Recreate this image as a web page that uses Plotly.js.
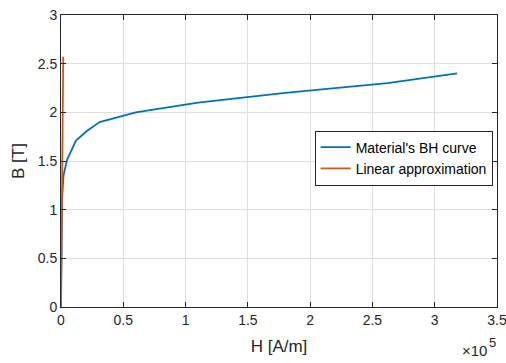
<!DOCTYPE html>
<html>
<head>
<meta charset="utf-8">
<script src="https://cdn.plot.ly/plotly-3.0.1.min.js"></script>
<style>html,body{margin:0;padding:0;background:#fff;}#plot{width:506px;height:363px;}</style>
</head>
<body>
<div id="plot"></div>
<script>
const bhH = [0, 800, 2000, 4800, 12000, 21000, 31000, 60000, 110000, 180000, 262000, 318000];
const bhB = [0, 1.1, 1.35, 1.51, 1.71, 1.81, 1.9, 2.0, 2.1, 2.2, 2.3, 2.4];
const linH = [0, 1800];
const linB = [0, 2.57];
const xTickVals = [0, 50000, 100000, 150000, 200000, 250000, 300000, 350000];
const xTickText = ['0', '0.5', '1', '1.5', '2', '2.5', '3', '3.5'];
const yTickVals = [0, 0.5, 1, 1.5, 2, 2.5, 3];
const yTickText = ['0', '0.5', '1', '1.5', '2', '2.5', '3'];

const fam = 'Liberation Sans, Arial, sans-serif';
const font = {family: fam, color: '#262626', size: 14};
const traces = [
  {x: bhH, y: bhB, mode: 'lines', name: "Material's BH curve", line: {color: '#0072BD', width: 1.8}},
  {x: linH, y: linB, mode: 'lines', name: 'Linear approximation', line: {color: '#D95319', width: 1.8}}
];
const axisCommon = {
  showline: true, linecolor: '#262626', linewidth: 1, mirror: 'ticks',
  ticks: 'inside', ticklen: 5, tickcolor: '#262626', tickwidth: 1,
  showgrid: true, gridcolor: '#dfdfdf', gridwidth: 1, zeroline: false,
  tickfont: font, ticklabeloverflow: 'allow'
};
const layout = {
  width: 506, height: 363,
  margin: {l: 61, r: 9, t: 15, b: 56},
  paper_bgcolor: '#fff', plot_bgcolor: '#fff',
  font: font,
  showlegend: true,
  legend: {x: 0.99, xanchor: 'right', y: 0.51, yanchor: 'middle', bgcolor: '#fff',
           bordercolor: '#262626', borderwidth: 1, font: {family: fam, size: 14, color: '#000'},
           tracegroupgap: 0, itemwidth: 30},
  xaxis: Object.assign({}, axisCommon, {range: [0, 350000], tickmode: 'array', tickvals: xTickVals, ticktext: xTickText,
    title: {text: 'H [A/m]', font: {family: fam, size: 17, color: '#262626'}, standoff: 13}}),
  yaxis: Object.assign({}, axisCommon, {range: [0, 3], tickmode: 'array', tickvals: yTickVals, ticktext: yTickText,
    title: {text: 'B [T]', font: {family: fam, size: 17, color: '#262626'}, standoff: 8}}),
  annotations: [
    {xref: 'paper', yref: 'paper', x: 0.982, y: -0.185, xanchor: 'right', yanchor: 'bottom', showarrow: false,
     text: '×10', font: {family: fam, size: 15, color: '#262626'}},
    {xref: 'paper', yref: 'paper', x: 0.978, y: -0.09, xanchor: 'left', yanchor: 'top', showarrow: false,
     text: '5', font: {family: fam, size: 13, color: '#262626'}}
  ]
};
Plotly.newPlot('plot', traces, layout, {displayModeBar: false, staticPlot: true});
</script>
</body>
</html>
